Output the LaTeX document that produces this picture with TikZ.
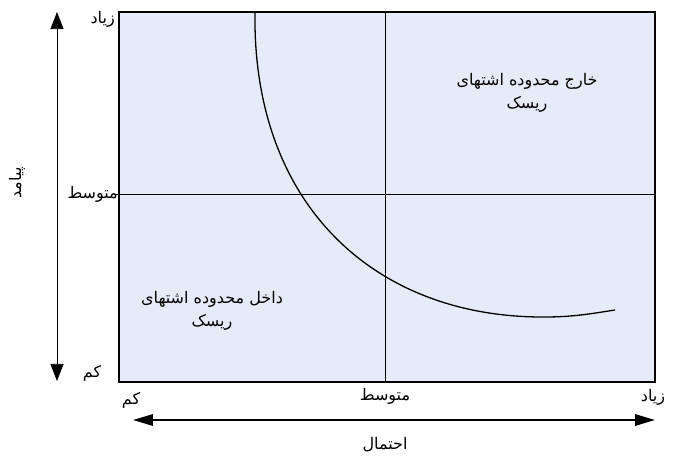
\documentclass[tikz,border=0pt]{standalone}
\usepackage{fontspec}
\newfontfamily\arabicfont[Script=Arabic]{DejaVu Sans}
\TeXXeTstate=1
\usetikzlibrary{positioning,arrows.meta}
\definecolor{riskfill}{HTML}{E6ECF7}
\definecolor{riskline}{HTML}{000000}

\begin{document}
\begin{tikzpicture}[x=1pt,y=-1pt,
      lbl/.style={font=\arabicfont\fontsize{16}{18}\selectfont,inner sep=1pt,align=center},
      zone/.style={font=\arabicfont\fontsize{16}{23}\selectfont,align=center,inner sep=1pt},
      vaxarr/.style={{Triangle[length=6mm,width=4.6mm]}-{Triangle[length=6mm,width=4.6mm]},riskline,line width=0.8pt},
      haxarr/.style={{Triangle[length=7mm,width=4mm]}-{Triangle[length=7mm,width=4mm]},riskline,line width=1.8pt},
      grid/.style={riskline,line width=0.6pt}]
    \useasboundingbox (0,0) rectangle (673,459);
    % matrix
    \coordinate (nw) at (119,12);
    \coordinate (se) at (655,382);
    \fill[riskfill] (nw) rectangle (se);
    \draw[grid] (385,12) -- (385,382);
    \draw[grid] (115,194) -- (655,194);
    \draw[riskline,line width=2.5pt] (nw) rectangle (se);
    % appetite curve
    \draw[riskline,line width=1.3pt] (255,12) .. controls (252,205) and (375,318) .. (545,317)
                                 .. controls (575,317) and (595,313) .. (615,310);
    \node[zone] (outz) at (527,93) {\beginR خارج محدوده اشتهای\endR\\\beginR ریسک\endR};
    \node[zone] (inz) at (212,311) {\beginR داخل محدوده اشتهای\endR\\\beginR ریسک\endR};
    % axes
    \coordinate (vt) at (57,12);
    \coordinate (vb) at (57,381);
    \draw[vaxarr] (vt) -- (vb);
    \coordinate (hl) at (133,420);
    \coordinate (hr) at (655,420);
    \draw[haxarr] (hl) -- (hr);
    \node[lbl,anchor=east] (yhi) at (116,19) {\beginR زیاد\endR};
    \node[lbl,anchor=east] (ymid) at (119,194) {\beginR متوسط\endR};
    \node[lbl] (ylo) at (92,373) {\beginR کم\endR};
    \node[lbl] (xlo) at (131,400) {\beginR کم\endR};
    \node[lbl] (xmid) at (385,396) {\beginR متوسط\endR};
    \node[lbl] (xhi) at (653,397) {\beginR زیاد\endR};
    \node[lbl] (xname) at (385,445) {\beginR احتمال\endR};
    \node[lbl,rotate=90] (yname) at (17,183) {\beginR پیامد\endR};
\end{tikzpicture}
\end{document}
